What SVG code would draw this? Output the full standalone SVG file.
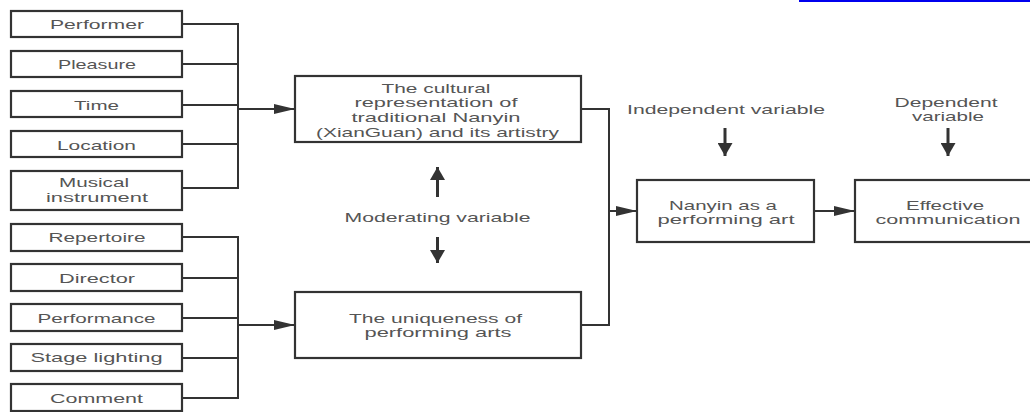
<svg xmlns="http://www.w3.org/2000/svg" width="1030" height="412" viewBox="0 0 1030 412">
<style>
.box{fill:#fff;stroke:#333;stroke-width:2.2}
.t{font-family:"Liberation Sans",Arial,sans-serif;font-size:13px;fill:#555;text-anchor:middle}
.ln{fill:none;stroke:#333;stroke-width:2}
.lv{fill:none;stroke:#333;stroke-width:3}
</style>
<defs>
<marker id="ah" markerUnits="userSpaceOnUse" markerWidth="21" markerHeight="10" refX="21" refY="5" orient="auto" viewBox="0 0 21 10"><path d="M0,0 L21,5 L0,10 z" fill="#333"/></marker>
<marker id="av" markerUnits="userSpaceOnUse" markerWidth="13" markerHeight="15" refX="13" refY="7.5" orient="auto" viewBox="0 0 13 15"><path d="M0,0 L13,7.5 L0,15 z" fill="#333"/></marker>
</defs>
<rect width="1030" height="412" fill="#fff"/>
<line x1="799" y1="1" x2="1030" y2="1" stroke="#0000ee" stroke-width="2"/>

<g id="connectors">
<path class="ln" d="M182,24 H238 M182,64 H238 M182,105 H238 M182,144 H238 M182,188 H238 M238,23 V189"/>
<path class="ln" d="M238,109 H295" marker-end="url(#ah)"/>
<path class="ln" d="M182,237 H238 M182,278 H238 M182,318 H238 M182,358 H238 M182,398 H238 M238,236 V399"/>
<path class="ln" d="M238,325 H295" marker-end="url(#ah)"/>
<path class="ln" d="M581,109 H609 V325 H581"/>
<path class="ln" d="M609,211 H637" marker-end="url(#ah)"/>
<path class="ln" d="M814,211 H855" marker-end="url(#ah)"/>
<path class="lv" d="M437.5,197 V167" marker-end="url(#av)"/>
<path class="lv" d="M437.5,237 V263" marker-end="url(#av)"/>
<path class="lv" d="M725,128 V156" marker-end="url(#av)"/>
<path class="lv" d="M948,128 V156" marker-end="url(#av)"/>
</g>

<g id="performer"><rect class="box" x="11" y="11" width="171" height="26"/><text class="t" x="97" y="29" textLength="94" lengthAdjust="spacingAndGlyphs">Performer</text></g>
<g id="pleasure"><rect class="box" x="11" y="51" width="171" height="26"/><text class="t" x="97" y="69" textLength="78" lengthAdjust="spacingAndGlyphs">Pleasure</text></g>
<g id="time"><rect class="box" x="11" y="91" width="171" height="26"/><text class="t" x="96.5" y="109.5" textLength="45" lengthAdjust="spacingAndGlyphs">Time</text></g>
<g id="location"><rect class="box" x="11" y="131" width="171" height="26"/><text class="t" x="96.5" y="150" textLength="79" lengthAdjust="spacingAndGlyphs">Location</text></g>
<g id="instrument"><rect class="box" x="11" y="171" width="171" height="39"/><text class="t" x="94" y="187" textLength="70" lengthAdjust="spacingAndGlyphs">Musical</text><text class="t" x="97" y="201.5" textLength="102" lengthAdjust="spacingAndGlyphs">instrument</text></g>

<g id="repertoire"><rect class="box" x="11" y="224" width="171" height="27"/><text class="t" x="97" y="242" textLength="97" lengthAdjust="spacingAndGlyphs">Repertoire</text></g>
<g id="director"><rect class="box" x="11" y="264" width="171" height="27"/><text class="t" x="97" y="283" textLength="76" lengthAdjust="spacingAndGlyphs">Director</text></g>
<g id="performance"><rect class="box" x="11" y="304" width="171" height="27"/><text class="t" x="96.5" y="322.5" textLength="118" lengthAdjust="spacingAndGlyphs">Performance</text></g>
<g id="stage"><rect class="box" x="11" y="344" width="171" height="27"/><text class="t" x="96.5" y="362" textLength="132" lengthAdjust="spacingAndGlyphs">Stage lighting</text></g>
<g id="comment"><rect class="box" x="11" y="384" width="171" height="27"/><text class="t" x="96.5" y="403" textLength="93" lengthAdjust="spacingAndGlyphs">Comment</text></g>

<g id="cultural"><rect class="box" x="295" y="76" width="286" height="66"/>
<text class="t" x="436" y="92.5" textLength="109" lengthAdjust="spacingAndGlyphs">The cultural</text>
<text class="t" x="436" y="107" textLength="163" lengthAdjust="spacingAndGlyphs">representation of</text>
<text class="t" x="436" y="121.5" textLength="169" lengthAdjust="spacingAndGlyphs">traditional Nanyin</text>
<text class="t" x="437.5" y="137" textLength="243" lengthAdjust="spacingAndGlyphs">(XianGuan) and its artistry</text></g>

<g id="moderating"><text class="t" x="437.5" y="221.5" textLength="186" lengthAdjust="spacingAndGlyphs">Moderating variable</text></g>

<g id="uniqueness"><rect class="box" x="295" y="292" width="286" height="66"/>
<text class="t" x="435.5" y="322.5" textLength="173" lengthAdjust="spacingAndGlyphs">The uniqueness of</text>
<text class="t" x="438" y="337" textLength="147" lengthAdjust="spacingAndGlyphs">performing arts</text></g>

<g id="independent"><text class="t" x="726" y="113.5" textLength="198" lengthAdjust="spacingAndGlyphs">Independent variable</text></g>
<g id="dependent"><text class="t" x="946" y="107" textLength="103" lengthAdjust="spacingAndGlyphs">Dependent</text><text class="t" x="948" y="121" textLength="72" lengthAdjust="spacingAndGlyphs">variable</text></g>

<g id="nanyin"><rect class="box" x="637" y="180" width="177" height="62"/>
<text class="t" x="723" y="209.5" textLength="108" lengthAdjust="spacingAndGlyphs">Nanyin as a</text>
<text class="t" x="726" y="223.5" textLength="137" lengthAdjust="spacingAndGlyphs">performing art</text></g>

<g id="effective"><rect class="box" x="855" y="180" width="185" height="62"/>
<text class="t" x="945" y="209.5" textLength="78" lengthAdjust="spacingAndGlyphs">Effective</text>
<text class="t" x="948" y="223.5" textLength="145" lengthAdjust="spacingAndGlyphs">communication</text></g>
</svg>
